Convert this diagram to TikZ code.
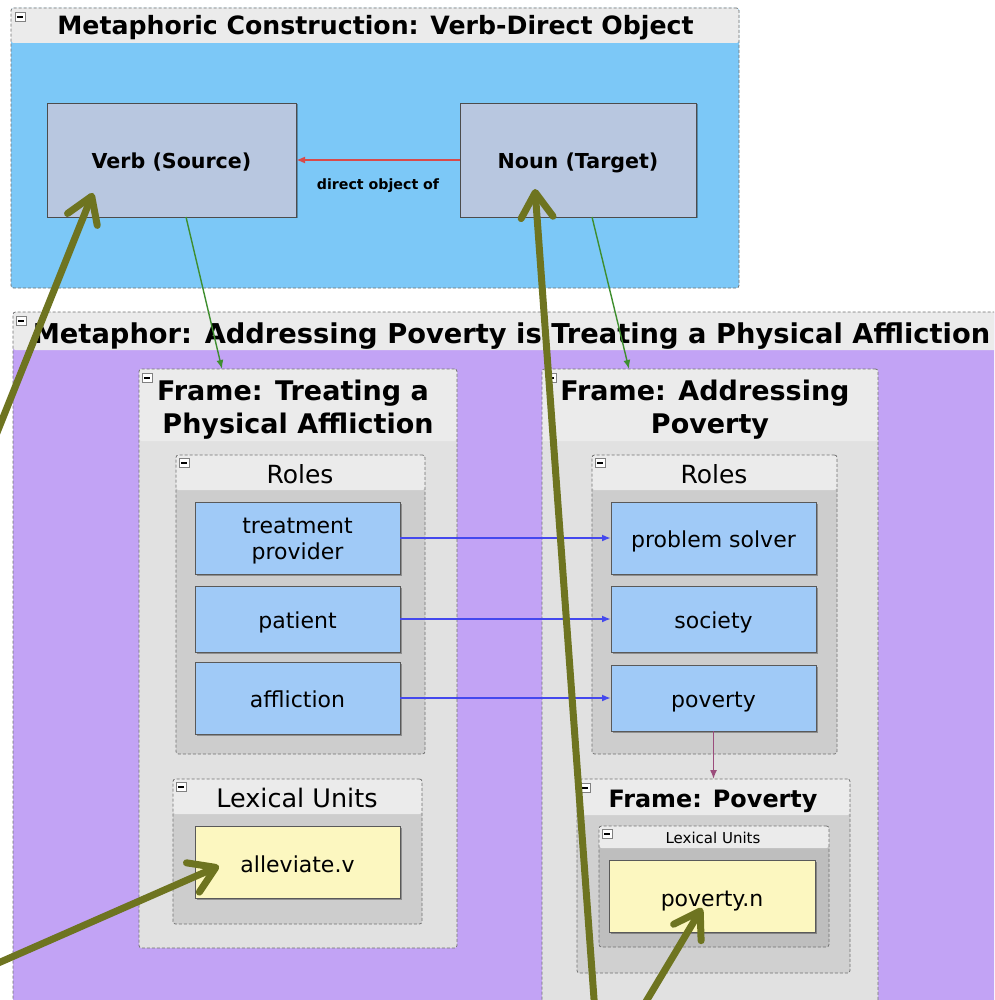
\documentclass[tikz,border=0pt]{standalone}
\usepackage{fontspec}
\setmainfont{DejaVu Sans}
\usetikzlibrary{arrows.meta,shadows,calc}

\definecolor{cxnblue}{HTML}{7CC8F7}
\definecolor{metapurple}{HTML}{C2A3F5}
\definecolor{titlegray}{HTML}{EBEBEB}
\definecolor{framegray}{HTML}{E1E1E1}
\definecolor{groupgray}{HTML}{CDCDCD}
\definecolor{povgray}{HTML}{D0D0D0}
\definecolor{innergray}{HTML}{BEBEBE}
\definecolor{slotblue}{HTML}{B8C7E0}
\definecolor{roleblue}{HTML}{A0CAF7}
\definecolor{luyellow}{HTML}{FCF7C0}
\definecolor{bordergray}{HTML}{707070}
\definecolor{pointerolive}{HTML}{6E7420}
\definecolor{linkgreen}{HTML}{3E8E2E}
\definecolor{linkred}{HTML}{D94A4A}
\definecolor{linkblue}{HTML}{4448EE}
\definecolor{linkplum}{HTML}{9B4C7C}

\tikzset{
  panel/.style 2 args={draw=bordergray, dash pattern=on 3pt off 2pt, line width=0.8pt,
    rounded corners=2.5pt, fill=#1, inner sep=0pt, outer sep=0pt, anchor=north west,
    path picture={\fill[titlegray] (path picture bounding box.north west)
      rectangle ([yshift=-#2]path picture bounding box.north east);}},
  minus/.style={draw=gray, fill=white, line width=0.5pt, anchor=north west,
    minimum width=10pt, minimum height=9pt, inner sep=0pt,
    path picture={\fill[black] ([xshift=-3pt,yshift=-0.9pt]path picture bounding box.center)
      rectangle ([xshift=3pt,yshift=0.9pt]path picture bounding box.center);}},
  boxbase/.style={line width=0.8pt, inner sep=0pt, outer sep=0pt, anchor=north west,
    drop shadow={shadow xshift=1.5pt, shadow yshift=-1.5pt, opacity=0.3, fill=black}},
  slot/.style={boxbase, draw=black!70, fill=slotblue, text height=20pt, text depth=2pt,
    font=\fontsize{20.6}{24}\selectfont\bfseries},
  role/.style={boxbase, draw=black!65, fill=roleblue, text height=22pt, text depth=3pt,
    font=\fontsize{22}{26}\selectfont},
  lexunit/.style={boxbase, draw=black!65, fill=luyellow, text height=22pt, text depth=2pt,
    font=\fontsize{22}{26}\selectfont},
  bigtitle/.style={anchor=base, inner sep=0pt, font=\fontsize{#1}{#1}\selectfont\bfseries},
  plaintitle/.style={anchor=base, inner sep=0pt, font=\fontsize{#1}{#1}\selectfont},
  link/.style={line width=1.8pt, -{Latex[length=9pt,width=7pt]}},
  pointer/.style={pointerolive, line width=7pt, line cap=round,
    -{Straight Barb[length=25pt,width=32pt,round]}},
}

\begin{document}
\begin{tikzpicture}[x=1pt,y=-1pt]
\useasboundingbox (0,0) rectangle (994,1000);
\clip (0,0) rectangle (994,1000);
\fill[white] (0,0) rectangle (994,1000);

% ---------- construction panel ----------
\node[panel={cxnblue}{35pt}, minimum width=728pt, minimum height=280pt] (cxn) at (11,8) {};
\node[minus] (cxnmin) at (15,12) {};
\node[bigtitle=25.2] (cxntitle) at (375.5,35) {Metaphoric Construction: Verb-Direct Object};

\node[slot, minimum width=249pt, minimum height=114pt] (verb) at (47,103) {Verb (Source)};
\node[slot, minimum width=236pt, minimum height=114pt] (noun) at (460,103) {Noun (Target)};
\node[bigtitle=14.2] (dobj) at (378,190) {direct object of};

% ---------- metaphor panel ----------
\node[panel={metapurple}{38pt}, minimum width=1000pt, minimum height=720pt] (meta) at (13,312) {};
\node[minus] (metamin) at (16,316) {};
\node[bigtitle=27.3] (metatitle) at (511.5,343) {Metaphor: Addressing Poverty is Treating a Physical Affliction};

% source frame
\node[panel={framegray}{72pt}, minimum width=318pt, minimum height=579pt] (fsrc) at (139,369) {};
\node[minus] (fsrcmin) at (142,373) {};
\node[bigtitle=27] (fsrct1) at (293,400) {Frame: Treating a};
\node[bigtitle=27] (fsrct2) at (298,433) {Physical Affliction};

\node[panel={groupgray}{35pt}, minimum width=249pt, minimum height=299pt] (rolesL) at (176,455) {};
\node[minus] (rolesLmin) at (179,458) {};
\node[plaintitle=25] (rolesLt) at (300,483) {Roles};
\node[role, text height=47pt, text depth=4pt, minimum width=205pt, minimum height=72pt] (tp) at (195,502)
  {\begin{tabular}[b]{@{}c@{}}treatment\\provider\end{tabular}};
\node[role, minimum width=205pt, minimum height=66pt] (patient) at (195,586) {patient};
\node[role, minimum width=205pt, minimum height=72pt] (affliction) at (195,662) {affliction};

\node[panel={groupgray}{35pt}, minimum width=249pt, minimum height=145pt] (luL) at (173,779) {};
\node[minus] (luLmin) at (176,782) {};
\node[plaintitle=25.5] (luLt) at (297,807) {Lexical Units};
\node[lexunit, minimum width=205pt, minimum height=72pt] (alleviate) at (195,826) {alleviate.v};

% target frame
\node[panel={framegray}{72pt}, minimum width=336pt, minimum height=700pt] (ftgt) at (542,369) {};
\node[minus] (ftgtmin) at (546,373) {};
\node[bigtitle=27] (ftgtt1) at (705,400) {Frame: Addressing};
\node[bigtitle=27] (ftgtt2) at (710,433) {Poverty};

\node[panel={groupgray}{35pt}, minimum width=245pt, minimum height=299pt] (rolesR) at (592,455) {};
\node[minus] (rolesRmin) at (595,458) {};
\node[plaintitle=25] (rolesRt) at (714,483) {Roles};
\node[role, minimum width=205pt, minimum height=72pt] (ps) at (611,502) {problem solver};
\node[role, minimum width=205pt, minimum height=66pt] (society) at (611,586) {society};
\node[role, minimum width=205pt, minimum height=66pt] (poverty) at (611,665) {poverty};

\node[panel={povgray}{36pt}, minimum width=273pt, minimum height=194pt] (fpov) at (577,779) {};
\node[minus] (fpovmin) at (580,783) {};
\node[bigtitle=23.9] (fpovt) at (713,807) {Frame: Poverty};
\node[panel={innergray}{22pt}, minimum width=230pt, minimum height=121pt] (luR) at (599,826) {};
\node[minus] (luRmin) at (602,829) {};
\node[plaintitle=15] (luRt) at (713,843) {Lexical Units};
\node[lexunit, minimum width=206pt, minimum height=72pt] (povn) at (609,860) {poverty.n};

% ---------- relations ----------
\draw[link, linkred] (noun.west) -- (verb.east);
\draw[link, linkgreen, line width=1.4pt] ([xshift=14.5pt]verb.south) -- ([xshift=-76pt]fsrc.north);
\draw[link, linkgreen, line width=1.4pt] ([xshift=14pt]noun.south) -- ([xshift=-81pt]ftgt.north);
\draw[link, linkblue] (tp.east) -- (ps.west);
\draw[link, linkblue] (patient.east) -- (society.west);
\draw[link, linkblue] (affliction.east) -- (poverty.west);
\draw[link, linkplum, line width=1.4pt] (poverty.south) -- (fpov.north);

% ---------- pointers from outside ----------
\coordinate (ptrA) at (-20,475);
\coordinate (ptrB) at (-20,971);
\coordinate (ptrC) at (597,1040);
\coordinate (ptrD) at (623,1040);
\draw[pointer] (ptrA) -- ([xshift=-78.5pt,yshift=-33pt]verb.center);
\draw[pointer] (ptrB) -- ([xshift=-78.5pt,yshift=-4pt]alleviate.center);
\draw[pointer] (ptrC) -- ([xshift=-43pt,yshift=-29pt]noun.center);
\draw[pointer] (ptrD) -- ([xshift=-10pt,yshift=-12pt]povn.center);
\end{tikzpicture}
\end{document}
